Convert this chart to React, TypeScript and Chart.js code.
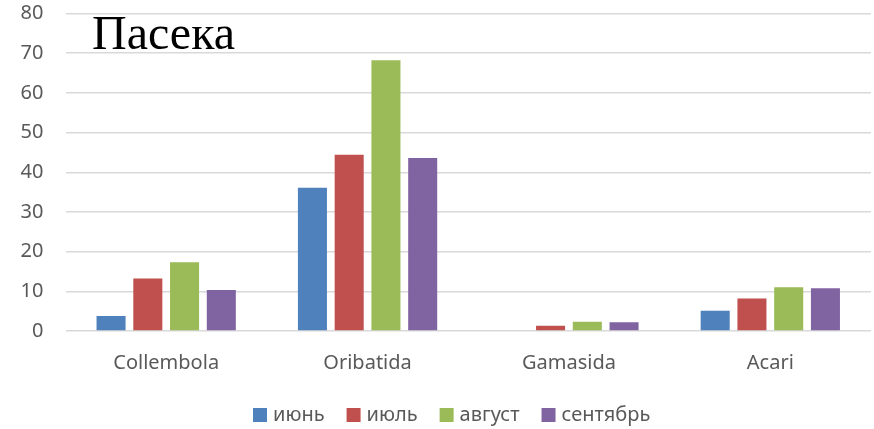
import React, { useEffect, useRef } from "react";
import { Chart, registerables } from "chart.js";

Chart.register(...registerables);

const categories = ["Collembola", "Oribatida", "Gamasida", "Acari"];
const seriesNames = ["июнь", "июль", "август", "сентябрь"];
const june = [3.8, 36.1, 0, 5.1];
const july = [13.2, 44.4, 1.3, 8.2];
const august = [17.3, 68.2, 2.3, 11.0];
const september = [10.3, 43.6, 2.2, 10.8];
const seriesColors = ["#4F81BD", "#C0504D", "#9BBB59", "#8064A2"];
const yMin = 0;
const yMax = 80;
const yStep = 10;
const titleText = "Пасека";

const textColor = "#595959";
const labelFont = '20px "Noto Sans", sans-serif';

// Large serif caption in the top-left corner, over the plot.
const titlePlugin = {
  id: "cornerTitle",
  afterDraw(chart: any) {
    const ctx = chart.ctx;
    ctx.save();
    ctx.font = '48px "Liberation Serif", "Times New Roman", serif';
    ctx.fillStyle = "#000000";
    ctx.textAlign = "left";
    ctx.textBaseline = "alphabetic";
    ctx.fillText(titleText, 92, 49);
    ctx.restore();
  },
};

// Legend row under the axis: square swatch, small gap, series name.
const legendPlugin = {
  id: "bottomLegend",
  afterDraw(chart: any) {
    const ctx = chart.ctx;
    const box = 14;
    const gap = 6;
    const spacing = 22;
    const cy = 415;
    ctx.save();
    ctx.font = labelFont;
    ctx.textBaseline = "middle";
    ctx.textAlign = "left";
    let x = 253;
    chart.data.datasets.forEach((ds: any) => {
      ctx.fillStyle = ds.backgroundColor;
      ctx.fillRect(x, cy - box / 2, box, box);
      x += box + gap;
      ctx.fillStyle = textColor;
      ctx.fillText(ds.label, x, cy);
      x += ctx.measureText(ds.label).width + spacing;
    });
    ctx.restore();
  },
};

export default function App() {
  const canvasRef = useRef<HTMLCanvasElement | null>(null);

  useEffect(() => {
    if (!canvasRef.current) return;
    const values = [june, july, august, september];
    const chart = new Chart(canvasRef.current, {
      type: "bar",
      data: {
        labels: categories,
        datasets: seriesNames.map((name, i) => ({
          label: name,
          data: values[i],
          backgroundColor: seriesColors[i],
          borderWidth: 0,
          categoryPercentage: 0.73,
          barPercentage: 0.79,
        })),
      },
      options: {
        animation: false,
        responsive: false,
        maintainAspectRatio: false,
        layout: { padding: { left: 20, right: 3, top: 13.5, bottom: 34 } },
        plugins: {
          legend: { display: false },
          tooltip: { enabled: false },
        },
        scales: {
          x: {
            grid: { display: false, drawTicks: false },
            border: { display: false },
            ticks: {
              color: textColor,
              padding: 20,
              font: { family: '"Noto Sans", sans-serif', size: 20 },
            },
          },
          y: {
            min: yMin,
            max: yMax,
            grid: { color: "#d9d9d9", lineWidth: 1.5, drawTicks: false },
            border: { display: false },
            ticks: {
              stepSize: yStep,
              color: textColor,
              padding: 22,
              font: { family: '"Noto Sans", sans-serif', size: 20 },
            },
            afterFit(scale: any) {
              scale.width = 45.5;
              scale.paddingTop = 0;
              scale.paddingBottom = 0;
            },
          },
        },
      },
      plugins: [titlePlugin, legendPlugin],
    });
    return () => chart.destroy();
  }, []);

  return (
    <div style={{ position: "fixed", left: 0, top: 0, width: 874, height: 429, background: "#ffffff" }}>
      <canvas ref={canvasRef} width={874} height={429} style={{ display: "block" }} />
    </div>
  );
}
